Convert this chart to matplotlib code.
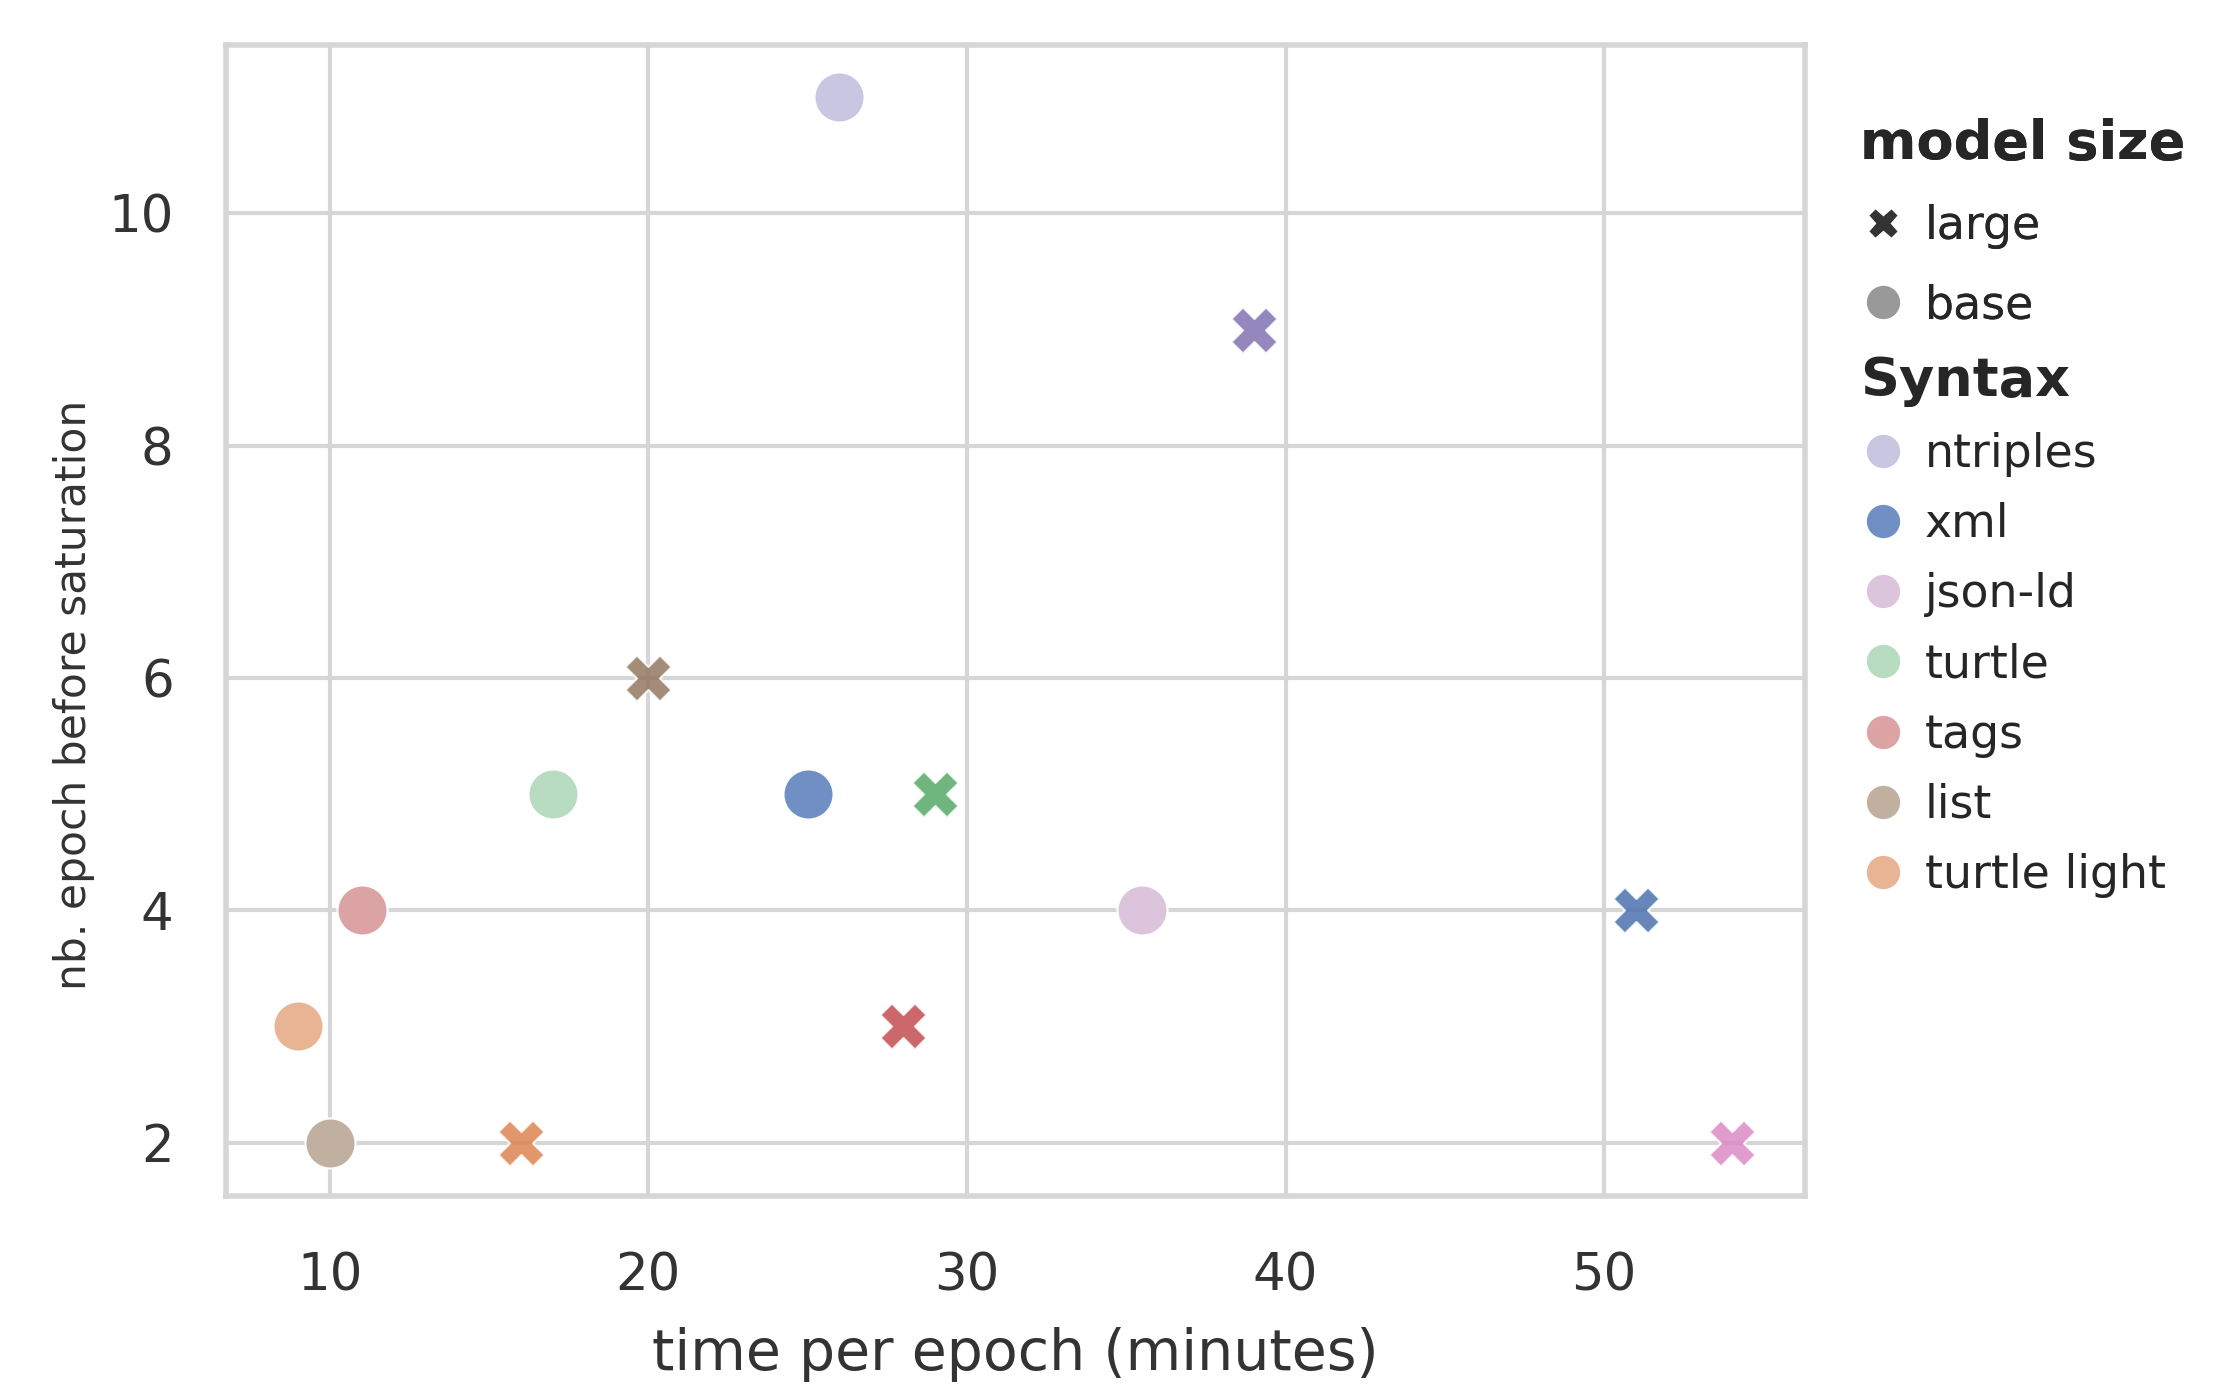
import matplotlib
matplotlib.use('Agg')
import matplotlib.pyplot as plt
from matplotlib.lines import Line2D
import seaborn as sns

# data
syntaxes = ['ntriples', 'xml', 'json-ld', 'turtle', 'tags', 'list', 'turtle light']
base_time = [26, 25, 35.5, 17, 11, 10, 9]
base_epochs = [11, 5, 4, 5, 4, 2, 3]
large_time = [39, 51, 54, 29, 28, 20, 16]
large_epochs = [9, 4, 2, 5, 3, 6, 2]

# colours per syntax (deep palette, base runs drawn lighter)
large_colors = ['#8172B3', '#4C72B0', '#DA8BC3', '#55A868', '#C44E52', '#937860', '#DD8452']
base_colors = ['#C8C6E0', '#6F8FC5', '#DCC4DC', '#B8DCC0', '#DCA3A5', '#C1B0A0', '#E8B493']

sns.set_style('whitegrid')
plt.rcParams['font.family'] = ['DejaVu Sans']

fig = plt.figure(figsize=(22.2, 13.85), dpi=100)
ax = fig.add_axes([0.102, 0.1365, 0.711, 0.831])

for i, name in enumerate(syntaxes):
    ax.scatter(base_time[i], base_epochs[i], s=1300, marker='o',
               color=base_colors[i], edgecolor='white', linewidth=1.5, zorder=3)
    ax.scatter(large_time[i], large_epochs[i], s=1100, marker='X',
               color=large_colors[i], alpha=0.85, edgecolor='white', linewidth=1.5, zorder=3)

ax.set_xlim(6.76, 56.3)
ax.set_ylim(1.54, 11.45)
ax.set_xticks([10, 20, 30, 40, 50])
ax.set_yticks([2, 4, 6, 8, 10])
ax.grid(True, color='#d6d6d6', linewidth=3)
for sp in ax.spines.values():
    sp.set_color('#d6d6d6')
    sp.set_linewidth(4)
ax.tick_params(axis='x', labelsize=37, colors='#333333', length=0, pad=40)
ax.tick_params(axis='y', labelsize=37, colors='#333333', length=0, pad=38)
ax.set_xlabel('time per epoch (minutes)', fontsize=41, color='#333333', labelpad=18)
ax.set_ylabel('nb. epoch before saturation', fontsize=30.5, color='#333333')
ax.yaxis.set_label_coords(-0.083, 0.435)

# legend: model size
size_handles = [
    Line2D([], [], marker='X', linestyle='', color='#333333', markersize=22, markeredgecolor='white'),
    Line2D([], [], marker='o', linestyle='', color='#999999', markersize=25, markeredgecolor='white'),
]
leg1 = fig.legend(size_handles, ['large', 'base'], title='model size', loc='upper left',
                  bbox_to_anchor=(0.838, 0.915), frameon=False, fontsize=33,
                  title_fontproperties={'weight': 'bold', 'size': 39},
                  alignment='left', borderpad=0, borderaxespad=0,
                  labelspacing=0.75, handletextpad=0.4, handlelength=1.0)

syn_handles = [Line2D([], [], marker='o', linestyle='', color=c, markersize=25,
                      markeredgecolor='white') for c in base_colors]
leg2 = fig.legend(syn_handles, syntaxes, title='Syntax', loc='upper left',
                  bbox_to_anchor=(0.838, 0.744), frameon=False, fontsize=33,
                  title_fontproperties={'weight': 'bold', 'size': 39},
                  alignment='left', borderpad=0, borderaxespad=0,
                  labelspacing=0.55, handletextpad=0.4, handlelength=1.0)
fig.add_artist(leg1)

fig.savefig('out.png', dpi=100)
